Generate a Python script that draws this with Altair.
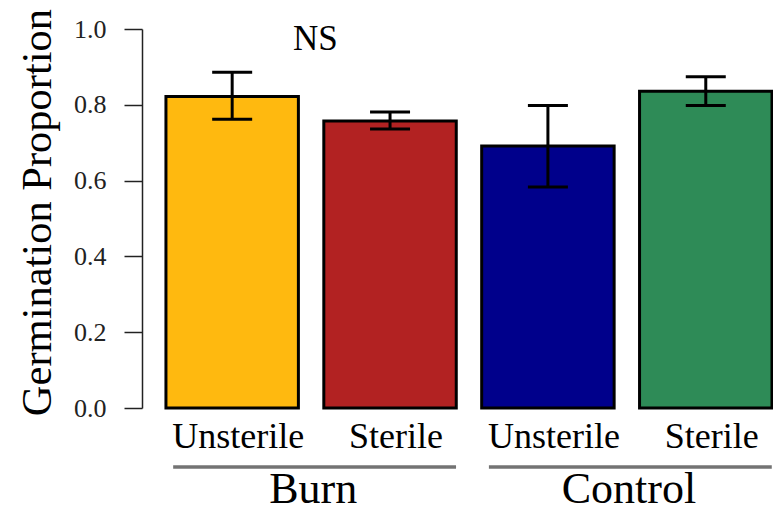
import altair as alt
import pandas as pd

# Data
site = ["Burn", "Burn", "Control", "Control"]
treatment = ["Unsterile", "Sterile", "Unsterile", "Sterile"]
mean = [0.822, 0.757, 0.691, 0.836]
lower = [0.762, 0.736, 0.583, 0.798]
upper = [0.886, 0.781, 0.798, 0.874]
colors = ["#FFB90F", "#B22222", "#00008B", "#2E8B57"]
y_ticks = [0.0, 0.2, 0.4, 0.6, 0.8, 1.0]
groups = ["Burn", "Control"]
annotation = "NS"

keys = [f"{s}-{t}" for s, t in zip(site, treatment)]
df = pd.DataFrame({"key": keys, "site": site, "treatment": treatment,
                   "mean": mean, "lower": lower, "upper": upper})
gdf = pd.DataFrame({
    "group": groups,
    "first": [keys[site.index(g)] for g in groups],
    "last": [keys[len(site) - 1 - site[::-1].index(g)] for g in groups],
})
ndf = pd.DataFrame({"label": [annotation], "key": [keys[0]], "yv": [0.945]})

FONT = "Liberation Serif"

xscale = alt.Scale(domain=keys, paddingInner=0.161, paddingOuter=0.079, align=0.96)
X = alt.X("key:N", scale=xscale, axis=None, sort=keys)
Y = alt.Y("mean:Q", scale=alt.Scale(domain=[0, 1], nice=False, zero=True),
          axis=alt.Axis(values=y_ticks, format=".1f", grid=False,
                        title="Germination Proportion", titleFont=FONT,
                        titleFontSize=42.5, titleFontWeight="normal", titleColor="black",
                        titleAngle=270, titleAlign="center", titleBaseline="middle",
                        titleX=-105, titleY=183,
                        labelFont=FONT, labelFontSize=26, labelColor="#222",
                        labelPadding=18, tickSize=18, tickColor="#222", tickWidth=1.5,
                        domainColor="#222", domainWidth=1.5))

base = alt.Chart(df)

bars = base.mark_bar(stroke="black", strokeWidth=3).encode(
    x=X, y=Y,
    color=alt.Color("key:N", scale=alt.Scale(domain=keys, range=colors), legend=None),
)

err = base.mark_rule(color="black", strokeWidth=3).encode(
    x=X, y=alt.Y("lower:Q"), y2="upper:Q")
cap_hi = base.mark_tick(color="black", thickness=3, size=40, opacity=1).encode(x=X, y="upper:Q")
cap_lo = base.mark_tick(color="black", thickness=3, size=40, opacity=1).encode(x=X, y="lower:Q")

tlabels = base.mark_text(font=FONT, fontSize=36, baseline="alphabetic", color="black",
                         xOffset=6).encode(
    x=X, y=alt.value(419), text="treatment:N")

gl = alt.Chart(gdf).mark_rule(color="#737373", strokeWidth=3.5, xOffset=-59, x2Offset=66).encode(
    x=alt.X("first:N", scale=xscale, axis=None, sort=keys),
    x2="last:N", y=alt.value(438))

gt = alt.Chart(gdf).mark_text(font=FONT, fontSize=44, baseline="alphabetic", color="black",
                              xOffset=81).encode(
    x=alt.X("first:N", scale=xscale, axis=None, sort=keys),
    y=alt.value(474), text="group:N")

ns = alt.Chart(ndf).mark_text(font=FONT, fontSize=35, baseline="alphabetic", color="black",
                              xOffset=17).encode(
    x=alt.X("key:N", scale=xscale, axis=None, sort=keys, bandPosition=1),
    y=alt.Y("yv:Q"), text="label:N")

chart = alt.layer(bars, err, cap_hi, cap_lo, tlabels, gl, gt, ns).properties(
    width=631, height=379,
    autosize=alt.AutoSizeParams(type="none"),
    padding={"left": 134, "top": 21, "right": 0, "bottom": 115},
).configure_view(stroke=None)

chart.save("out.html", embed_options={"renderer": "svg", "actions": False})
